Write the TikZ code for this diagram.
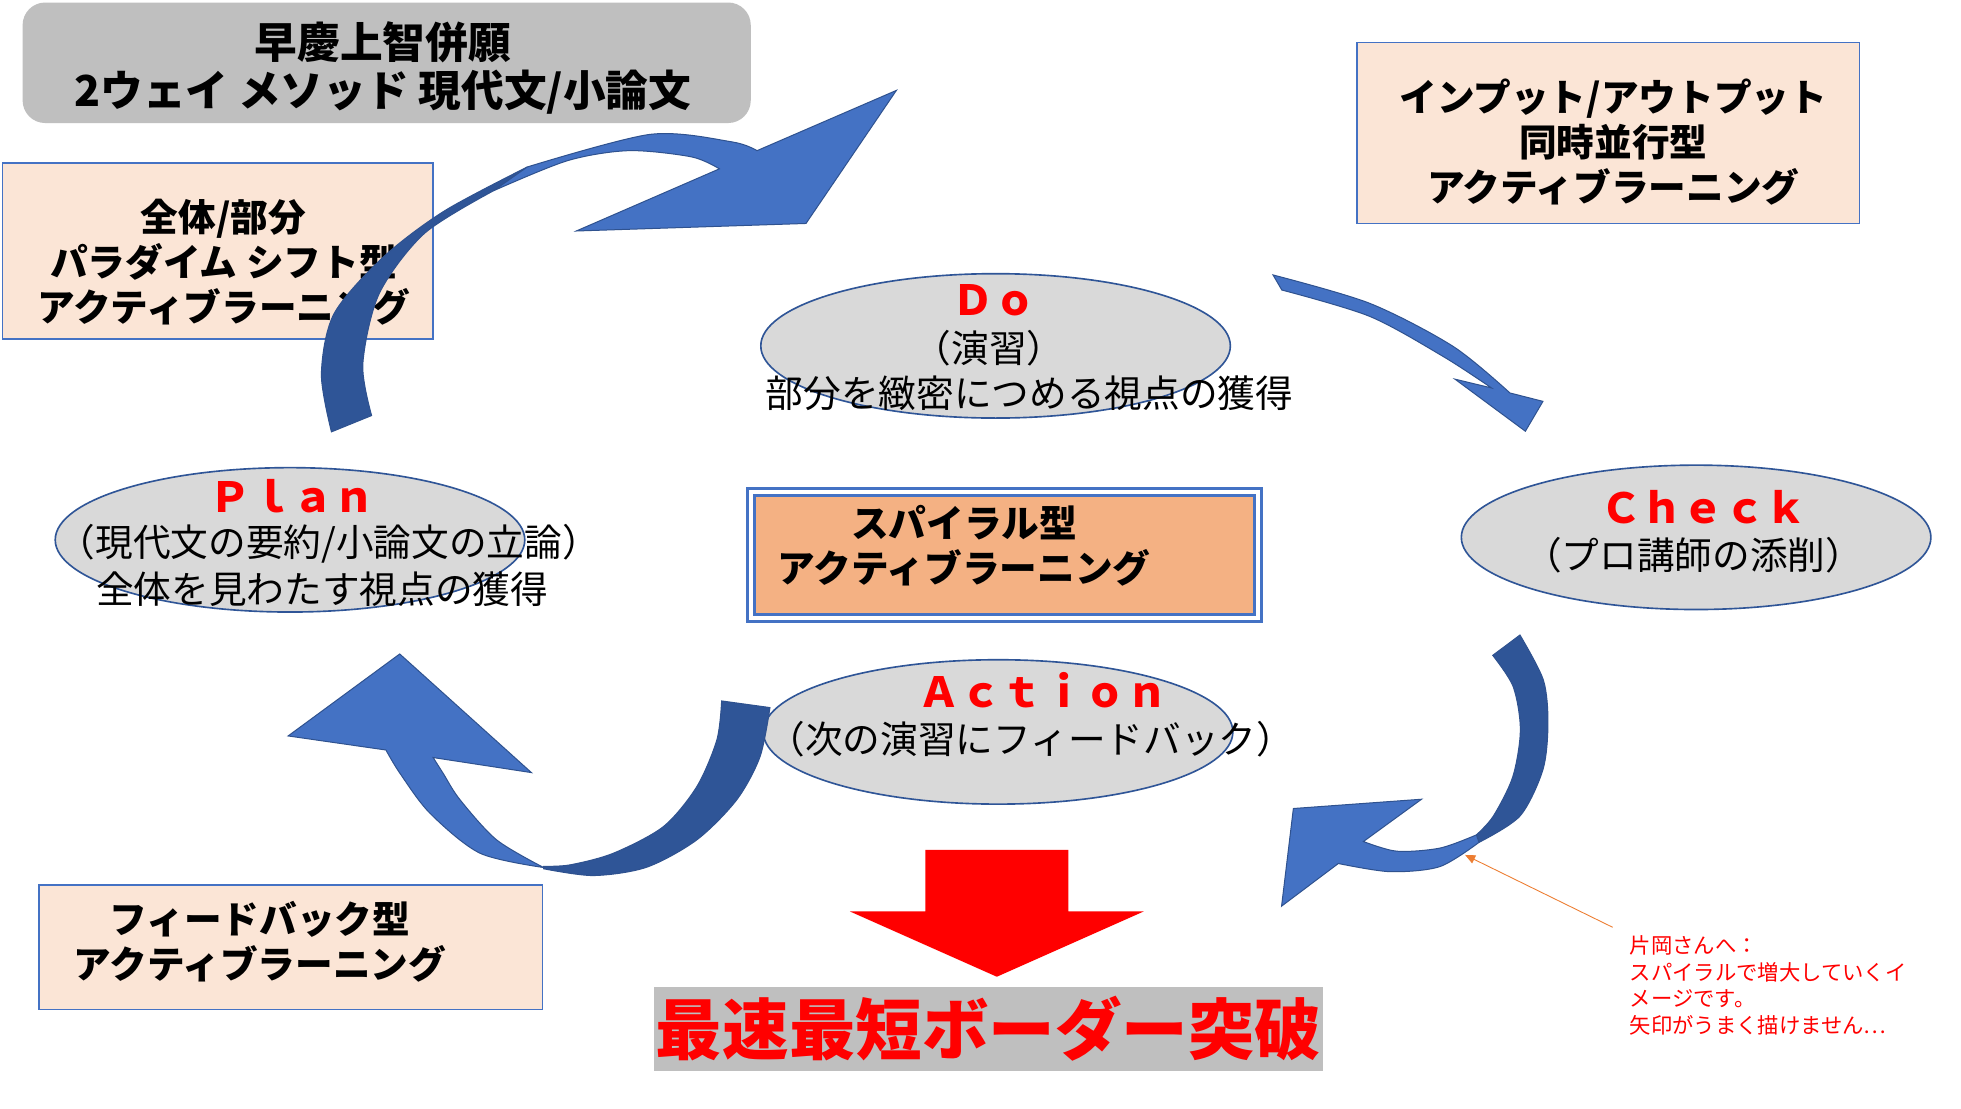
\documentclass[tikz,border=0pt]{standalone}
\usepackage{fontspec}
\setmainfont{Noto Sans CJK JP}
\usetikzlibrary{shapes.geometric,arrows.meta}
\definecolor{titlegray}{HTML}{BFBFBF}
\definecolor{ellgray}{HTML}{D9D9D9}
\definecolor{ellline}{HTML}{2F5597}
\definecolor{boxfill}{HTML}{FBE5D6}
\definecolor{boxline}{HTML}{4472C4}
\definecolor{spiralfill}{HTML}{F4B183}
\definecolor{arrlight}{HTML}{4472C4}
\definecolor{arrdark}{HTML}{2F5597}
\definecolor{arrline}{HTML}{2F528F}
\definecolor{noteorange}{HTML}{ED7D31}
\newcommand{\hlp}{\makebox[0.5em][r]{（}}
\newcommand{\hrp}{\makebox[0.5em][l]{）}}
\tikzset{
  titlebox/.style={fill=titlegray, rounded corners=18, minimum width=580, minimum height=96, inner sep=0},
  titletext/.style={inner sep=0, align=center, font=\bfseries\fontsize{34}{38}\selectfont},
  typebox/.style={draw=boxline, fill=boxfill, line width=1.2, inner sep=0},
  typetext/.style={inner sep=0, align=center, font=\bfseries\fontsize{30}{36}\selectfont},
  spiralbox/.style={draw=boxline, double=white, double distance=3, line width=2.5,
    fill=spiralfill, minimum width=404, minimum height=100, inner sep=0},
  phase/.style={ellipse, draw=ellline, fill=ellgray, line width=1.3,
    minimum width=374, minimum height=115, inner sep=0},
  phasename/.style={inner sep=0, text=red, font=\bfseries\fontsize{33}{40}\selectfont},
  phasetext/.style={inner sep=0, font=\fontsize{30}{36}\selectfont},
  bandlight/.style={fill=arrlight, draw=arrline, line width=0.8},
  banddark/.style={fill=arrdark, draw=arrline, line width=0.8},
  resultbox/.style={fill=titlegray, minimum width=533, minimum height=67, inner sep=0,
    text=red, font=\bfseries\fontsize{53}{60}\selectfont},
  notetext/.style={inner sep=0, align=left, text=red, font=\fontsize{17}{21.2}\selectfont},
  notearrow/.style={draw=noteorange, line width=0.7, -{Triangle[length=8pt,width=7pt]}}
}
\begin{document}
\begin{tikzpicture}[x=1pt,y=-1pt]
        \fill[white] (0,0) rectangle (1562,883);
        \useasboundingbox (0,0) rectangle (1562,883);
        \node[titlebox] (title) at (308,50) {};
        \node[titletext] (titletxt) at (305,54) {早慶上智併願\\2ウェイ メソッド 現代文/小論文};
        \node[typebox, minimum width=343, minimum height=140] (wholebox) at (173.5,200) {};
        \node[typetext] (wholetxt) at (178,209) {全体/部分\\パラダイム シフト型\\アクティブラーニング};
        \node[typebox, minimum width=400, minimum height=144] (iobox) at (1281,106) {};
        \node[typetext] (iotxt) at (1285,113) {インプット/アウトプット\\同時並行型\\アクティブラーニング};
        \node[typebox, minimum width=401, minimum height=99] (fbbox) at (231.5,754.5) {};
        \node[typetext] (fbtxt) at (207,750) {フィードバック型\\アクティブラーニング};
        \node[spiralbox] (spiral) at (800,442) {};
        \node[typetext] (spiraltxt) at (768,435) {スパイラル型\\アクティブラーニング};
        % phases
        \node[phase] (do) at (793,275.5) {};
        \node[phasename] (doname) at (792,239) {Ｄｏ};
        \node[phasetext] (dosub) at (788,277) {\hlp 演習\hrp};
        \node[phasetext] (doaim) at (820,313) {部分を緻密につめる視点の獲得};
        \node[phase] (plan) at (231,430) {};
        \node[phasename] (planname) at (233,395) {Ｐｌａｎ};
        \node[phasetext] (plansub) at (262,433) {\hlp 現代文の要約/小論文の立論\hrp};
        \node[phasetext] (planaim) at (256.5,469) {全体を見わたす視点の獲得};
        \node[phase] (check) at (1351,428) {};
        \node[phasename] (checkname) at (1357,404) {Ｃｈｅｃｋ};
        \node[phasetext] (checksub) at (1349,442) {\hlp プロ講師の添削\hrp};
        \node[phase] (action) at (795,583) {};
        \node[phasename] (actionname) at (831,550) {Ａｃｔｉｏｎ};
        \node[phasetext] (actionsub) at (821,589) {\hlp 次の演習にフィードバック\hrp};
        % curved arrows
        \filldraw[banddark] plot[smooth] coordinates {(264,344) (256,298) (266,250) (305,205) (354,168) (420,133)}
          -- plot[smooth] coordinates {(393,152) (338,186) (302,234) (289,290) (296,331)} -- cycle;
        \filldraw[bandlight] plot[smooth] coordinates {(420,133) (518,107) (583,113) (603,120)}
          -- (714,72) -- (642,178) -- (459,184)
          -- plot[smooth] coordinates {(573,134.5) (551,125) (501,120) (452,128) (393,152)} -- cycle;
        \filldraw[bandlight] plot[smooth] coordinates {(1014,219) (1091,241.6) (1157.6,276) (1202.7,313)}
          -- (1229,319.7) -- (1215,343.5) -- (1158.9,302)
          -- plot[smooth] coordinates {(1188,309) (1149.6,284) (1091,252) (1021,231)} -- cycle;
        \filldraw[banddark] plot[smooth] coordinates {(1210.7,505.8) (1229.3,541.6) (1233,576) (1229,613) (1210.7,650) (1178,671)}
          -- plot[smooth] coordinates {(1176,665) (1189.5,650) (1205,618.6) (1211,581.4) (1205.3,547) (1189,522)} -- cycle;
        \filldraw[bandlight] plot[smooth] coordinates {(1178,671) (1146.8,690.3) (1107,694.3) (1066,687.8)}
          -- (1020.8,721.8) -- (1030.2,644) -- (1132.3,636.6)
          -- plot[smooth] coordinates {(1086,670.3) (1112.6,678) (1147,675.5) (1176,665)} -- cycle;
        \filldraw[banddark] plot[smooth] coordinates {(613.3,563.6) (605.4,602.7) (586.8,637.1) (555,669) (515,690.8) (472.6,697.4) (433,692)}
          -- plot[smooth] coordinates {(433,690) (454,688.9) (488.6,679.6) (528.4,658.4) (555,626.6) (571,589.3) (574.8,558.3)} -- cycle;
        \filldraw[bandlight] plot[smooth] coordinates {(433,691) (382.3,679.6) (342.5,647.8) (318.6,616) (307.4,597.4)}
          -- (229.5,586.2) -- (318.4,520.9) -- (423.3,615.4)
          -- plot[smooth] coordinates {(345,603.4) (353,616) (366.4,637) (395.6,669) (433,691)} -- cycle;
        % result
        \fill[red] (737,677) -- (851,677) -- (851,726) -- (911,726) -- (794,778) -- (677,726) -- (737,726) -- cycle;
        \node[resultbox] (result) at (787.5,819.5) {最速最短ボーダー突破};
        \node[notetext, anchor=north west] (note) at (1298,745) {片岡さんへ：\\スパイラルで増大していくイ\\メージです。\\矢印がうまく描けません⋯};
        \coordinate (notetip) at (1167,681);
        \draw[notearrow] ([shift={(-13.5,-6.4)}]note.north west) -- (notetip);
\end{tikzpicture}
\end{document}
